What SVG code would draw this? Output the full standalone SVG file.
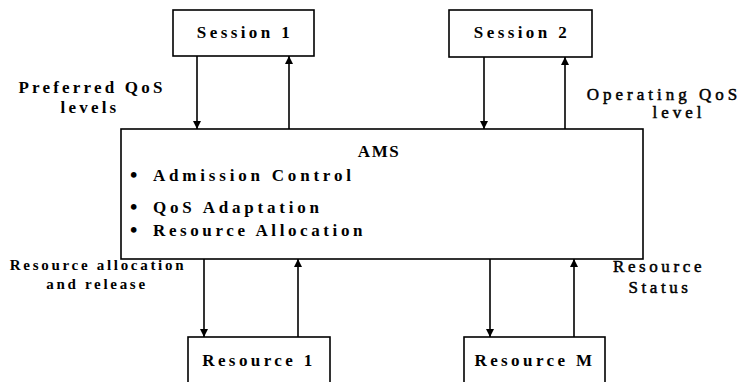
<svg xmlns="http://www.w3.org/2000/svg" width="745" height="382" viewBox="0 0 745 382">
<defs>
<marker id="ah" viewBox="0 0 10 10" refX="10" refY="5" markerWidth="8" markerHeight="8" markerUnits="userSpaceOnUse" orient="auto">
<path d="M0,0 L10,5 L0,10 Z" fill="#000"/>
</marker>
<style>
.box{fill:#fff;stroke:#000;stroke-width:1.6}
.t{font-family:"Liberation Serif","Times New Roman",serif;font-weight:bold;font-size:17px;letter-spacing:3.4px;fill:#000}
.b{font-family:"Liberation Serif","Times New Roman",serif;font-weight:bold;font-size:21px;fill:#000}
.l{font-family:"Liberation Serif","Times New Roman",serif;font-weight:bold;font-size:17px;letter-spacing:3.2px;fill:#000}
.r{font-family:"Liberation Serif","Times New Roman",serif;font-size:17px;letter-spacing:4px;fill:#000;stroke:#000;stroke-width:0.5}
.c{stroke:#000;stroke-width:1.6;fill:none;marker-end:url(#ah)}
</style>
</defs>
<rect width="745" height="382" fill="#fff"/>
<g id="connectors">
<line class="c" x1="197" y1="56" x2="197" y2="129"/>
<line class="c" x1="289" y1="129" x2="289" y2="56"/>
<line class="c" x1="484" y1="57" x2="484" y2="129"/>
<line class="c" x1="565" y1="129" x2="565" y2="57"/>
<line class="c" x1="204" y1="259" x2="204" y2="337"/>
<line class="c" x1="298" y1="337" x2="298" y2="259"/>
<line class="c" x1="490" y1="259" x2="490" y2="337"/>
<line class="c" x1="574" y1="337" x2="574" y2="259"/>
</g>
<g id="session1">
<rect class="box" x="173" y="10" width="141" height="46"/>
<text class="t" x="245" y="38" text-anchor="middle">Session 1</text>
</g>
<g id="session2">
<rect class="box" x="449" y="10" width="143" height="47"/>
<text class="t" x="522" y="38" text-anchor="middle">Session 2</text>
</g>
<g id="ams">
<rect class="box" x="121" y="129" width="522" height="130"/>
<text class="t" x="379" y="157" text-anchor="middle" style="letter-spacing:1.5px">AMS</text>
<text class="b" x="130" y="182">•</text>
<text class="t" x="153" y="181" style="letter-spacing:3.8px">Admission Control</text>
<text class="b" x="130" y="214">•</text>
<text class="t" x="153" y="213" style="letter-spacing:3.8px">QoS Adaptation</text>
<text class="b" x="130" y="237">•</text>
<text class="t" x="153" y="236" style="letter-spacing:3.6px">Resource Allocation</text>
</g>
<g id="resource1">
<rect class="box" x="188" y="337" width="142" height="50"/>
<text class="t" x="259" y="366" text-anchor="middle">Resource 1</text>
</g>
<g id="resourceM">
<rect class="box" x="464" y="337" width="141" height="50"/>
<text class="t" x="535" y="366" text-anchor="middle">Resource M</text>
</g>
<g id="labels">
<text class="l" x="92" y="93" text-anchor="middle">Preferred QoS</text>
<text class="l" x="90" y="113" text-anchor="middle">levels</text>
<text class="r" x="664" y="100" text-anchor="middle">Operating QoS</text>
<text class="r" x="679" y="118" text-anchor="middle">level</text>
<text class="l" x="98" y="270" text-anchor="middle" style="font-size:15px;letter-spacing:2.7px">Resource allocation</text>
<text class="l" x="97" y="289" text-anchor="middle" style="font-size:15px;letter-spacing:2.7px">and release</text>
<text class="r" x="659" y="272" text-anchor="middle" style="letter-spacing:3.6px">Resource</text>
<text class="r" x="660" y="293" text-anchor="middle" style="letter-spacing:3.6px">Status</text>
</g>
</svg>
